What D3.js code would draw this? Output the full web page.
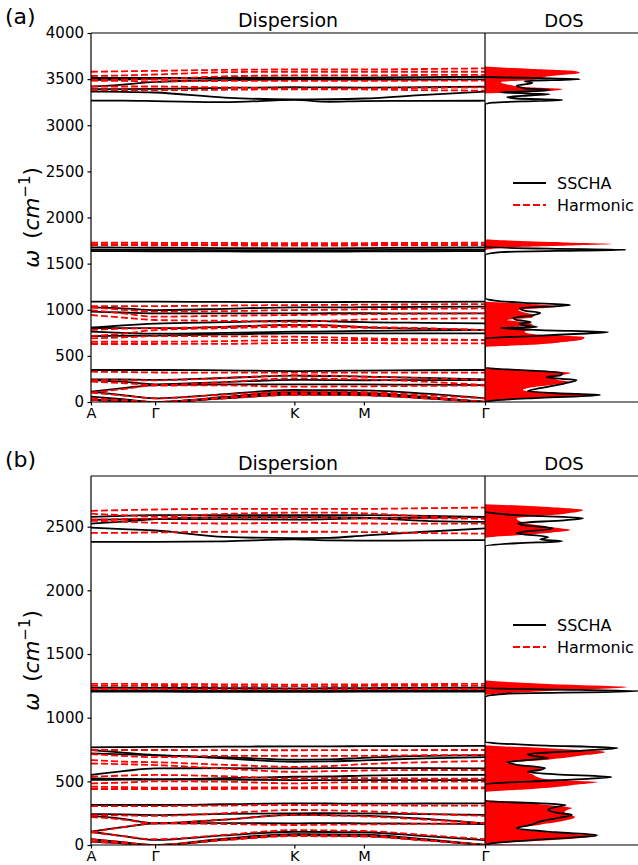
<!DOCTYPE html>
<html>
<head>
<meta charset="utf-8">
<script src="https://cdn.jsdelivr.net/npm/d3@7"></script>
<style>
body{margin:0;background:#fff}
text{font-family:"DejaVu Sans",sans-serif;fill:#000}
</style>
</head>
<body>
<svg id="fig" width="638" height="865"></svg>
<script>
// high symmetry path
var kLabels=["A","Γ","K","M","Γ"];
var kNodes=[0,0.307,0.974,1.307,1.887];
// sample points along path: A, mid, Γ, mid, K, mid, M, mid, Γ
var kPath=[0,0.153,0.307,0.64,0.974,1.14,1.307,1.6,1.887];

////////////////// panel (a) bands, cm-1
var sschaA=[
 [22,12,0,40,80,78,75,40,0],
 [22,12,0,45,94,90,85,45,0],
 [58,30,0,55,108,105,100,55,0],
 [112,75,40,85,130,128,125,90,40],
 [112,150,184,190,190,192,190,188,184],
 [238,220,192,215,240,238,236,238,238],
 [246,244,240,260,285,282,275,262,246],
 [347,347,347,343,335,338,340,344,347],
 [715,718,720,732,744,744,744,744,744],
 [762,750,742,750,762,765,770,776,780],
 [805,800,800,815,835,830,810,795,780],
 [805,830,849,865,881,875,865,858,853],
 [979,970,961,961,961,962,962,961,961],
 [1026,1015,997,1010,1026,1025,1028,1031,1033],
 [1087,1087,1087,1085,1082,1083,1085,1086,1087],
 [1635,1635,1634,1632,1630,1631,1632,1634,1635],
 [1650,1650,1649,1647,1645,1646,1647,1649,1650],
 [1675,1674,1672,1668,1665,1666,1668,1672,1675],
 [3266,3266,3262,3250,3275,3255,3262,3264,3266],
 [3364,3362,3355,3300,3280,3282,3290,3330,3364],
 [3390,3392,3395,3405,3412,3410,3408,3412,3418],
 [3418,3440,3470,3490,3497,3496,3494,3495,3497],
 [3490,3495,3505,3510,3512,3512,3512,3518,3526],
 [3512,3512,3512,3514,3516,3516,3516,3520,3526]
];
var harmA=[
 [22,10,0,40,76,75,72,40,0],
 [40,20,0,50,95,92,90,50,0],
 [101,70,40,80,112,110,108,75,40],
 [101,140,178,180,166,168,170,175,178],
 [220,205,184,215,257,252,245,220,184],
 [238,236,235,260,290,285,275,258,238],
 [329,325,320,318,318,318,318,318,318],
 [629,629,629,630,640,640,638,636,636],
 [653,653,653,660,672,672,672,672,672],
 [690,700,715,712,708,700,690,680,672],
 [715,740,780,800,816,812,805,795,780],
 [780,795,800,815,835,830,815,800,780],
 [943,915,889,880,870,880,895,903,907],
 [997,960,925,935,943,948,952,957,961],
 [1026,1000,979,985,997,1000,1005,1010,1015],
 [1040,1040,1040,1045,1051,1052,1055,1058,1062],
 [1700,1700,1699,1697,1695,1696,1697,1699,1700],
 [1712,1712,1711,1709,1707,1708,1709,1711,1712],
 [1727,1727,1726,1724,1722,1722,1723,1725,1727],
 [3382,3382,3380,3385,3390,3390,3388,3380,3375],
 [3420,3420,3420,3410,3400,3400,3400,3405,3411],
 [3483,3480,3475,3480,3480,3480,3480,3483,3483],
 [3490,3495,3500,3530,3540,3540,3540,3545,3545],
 [3534,3540,3550,3575,3580,3580,3580,3580,3580],
 [3580,3585,3590,3600,3605,3605,3605,3610,3617]
];
// DOS (a): [frequency, dos]
var dosSschaA=[[0,0],[20,0.08],[45,0.35],[76,0.73],[95,0.45],[119,0.27],[150,0.35],[200,0.5],[238,0.58],[255,0.45],[271,0.39],[290,0.48],[314,0.49],[340,0.3],[360,0.08],[372,0],
 [690,0],[715,0.3],[740,0.6],[759,0.78],[780,0.35],[802,0.1],[813,0.33],[830,0.25],[846,0.22],[868,0.29],[890,0.2],[911,0.18],[940,0.3],[965,0.35],[990,0.25],[1019,0.22],[1040,0.45],[1051,0.54],[1075,0.25],[1100,0.06],[1127,0],
 [1593,0],[1625,0.1],[1642,0.6],[1650,0.89],[1662,0.4],[1680,0],
 [3225,0],[3245,0.05],[3265,0.35],[3274,0.49],[3290,0.2],[3306,0.14],[3325,0.3],[3338,0.41],[3355,0.1],[3370,0.3],[3382,0.41],[3400,0.25],[3430,0.2],[3458,0.3],[3480,0.25],[3500,0.6],[3512,0.3],[3523,0]];
var dosHarmA=[[0,0],[15,0.05],[40,0.3],[62,0.6],[76,0.73],[92,0.55],[110,0.33],[130,0.24],[160,0.3],[190,0.45],[217,0.54],[245,0.45],[271,0.43],[295,0.5],[314,0.54],[335,0.4],[355,0.15],[372,0],
 [596,0],[620,0.3],[650,0.5],[680,0.62],[705,0.63],[730,0.35],[760,0.25],[790,0.3],[813,0.18],[835,0.3],[856,0.28],[875,0.2],[889,0.14],[915,0.3],[943,0.31],[970,0.25],[997,0.21],[1015,0.35],[1033,0.46],[1055,0.35],[1075,0.15],[1090,0],
 [1645,0],[1680,0.2],[1700,0.6],[1713,0.8],[1730,0.5],[1750,0.15],[1767,0],
 [3345,0],[3360,0.3],[3393,0.49],[3415,0.25],[3440,0.15],[3470,0.1],[3490,0.3],[3530,0.4],[3570,0.6],[3590,0.56],[3610,0.3],[3636,0]];

////////////////// panel (b)
var sschaB=[
 [26,12,0,40,75,73,70,38,0],
 [45,22,0,50,86,84,82,45,0],
 [104,70,40,75,104,102,100,70,39],
 [104,140,170,172,170,172,170,168,165],
 [228,205,170,200,236,234,230,205,170],
 [243,240,235,245,249,250,248,242,236],
 [314,314,314,320,327,326,325,326,327],
 [511,513,516,513,510,510,510,510,510],
 [524,520,516,525,536,538,545,550,550],
 [550,580,602,603,602,603,604,603,602],
 [720,712,706,680,654,656,665,680,690],
 [746,725,706,690,670,672,685,700,706],
 [767,769,770,772,775,775,776,777,778],
 [1205,1205,1204,1203,1202,1203,1204,1205,1205],
 [1215,1215,1214,1213,1212,1213,1214,1215,1215],
 [1235,1235,1234,1232,1230,1231,1232,1234,1235],
 [2381,2381,2381,2385,2400,2392,2390,2392,2394],
 [2492,2480,2470,2420,2410,2412,2430,2460,2486],
 [2524,2540,2560,2575,2575,2575,2570,2545,2537],
 [2555,2557,2560,2560,2555,2560,2565,2570,2577],
 [2577,2585,2590,2590,2590,2590,2590,2585,2577]
];
var harmB=[
 [26,12,0,38,70,68,66,35,0],
 [45,22,0,45,78,76,74,40,0],
 [100,70,45,80,117,114,110,78,45],
 [100,140,170,165,157,160,162,166,170],
 [220,200,170,200,236,232,225,200,170],
 [235,232,228,250,275,272,265,245,228],
 [306,306,306,310,314,313,312,310,310],
 [440,440,440,440,445,445,445,445,445],
 [458,455,450,452,452,455,455,452,452],
 [484,490,500,497,484,490,495,497,497],
 [536,545,550,540,522,525,525,522,522],
 [640,635,628,600,575,580,585,589,589],
 [667,655,650,630,614,620,635,650,660],
 [714,700,690,700,700,700,700,705,706],
 [746,746,746,745,744,745,745,746,746],
 [1225,1225,1224,1223,1222,1223,1224,1225,1225],
 [1250,1250,1249,1248,1247,1248,1249,1250,1250],
 [1265,1265,1264,1262,1260,1261,1262,1264,1265],
 [2452,2452,2455,2460,2460,2460,2458,2450,2445],
 [2546,2540,2530,2525,2530,2528,2525,2524,2524],
 [2555,2560,2565,2570,2570,2570,2565,2565,2563],
 [2602,2590,2580,2600,2610,2610,2605,2580,2563],
 [2624,2630,2635,2640,2640,2640,2640,2645,2650]
];
var dosSschaB=[[0,0],[15,0.05],[39,0.3],[78,0.71],[100,0.45],[133,0.2],[160,0.3],[181,0.34],[210,0.45],[236,0.55],[255,0.45],[275,0.4],[300,0.45],[314,0.51],[330,0.3],[345,0],
 [479,0],[500,0.3],[520,0.65],[534,0.8],[555,0.45],[573,0.27],[590,0.35],[604,0.38],[630,0.2],[651,0.14],[670,0.3],[683,0.4],[700,0.3],[712,0.27],[740,0.6],[761,0.84],[785,0.3],[808,0],
 [1162,0],[1190,0.15],[1203,0.8],[1209,0.97],[1218,0.6],[1232,0],
 [2347,0],[2370,0.2],[2386,0.49],[2400,0.35],[2418,0.4],[2449,0.2],[2488,0.43],[2510,0.25],[2527,0.21],[2550,0.5],[2567,0.62],[2590,0.2],[2614,0]];
var dosHarmB=[[0,1.0],[4,0.03],[20,0.15],[50,0.55],[71,0.71],[90,0.5],[115,0.25],[133,0.2],[160,0.35],[190,0.5],[220,0.57],[250,0.5],[275,0.52],[290,0.55],[315,0.4],[340,0.15],[355,0],
 [416,0],[440,0.3],[470,0.55],[494,0.71],[515,0.4],[534,0.33],[555,0.3],[573,0.27],[590,0.35],[604,0.37],[625,0.25],[644,0.14],[670,0.4],[700,0.6],[730,0.76],[760,0.4],[785,0],
 [1177,0],[1210,0.4],[1240,0.9],[1265,0.4],[1295,0],
 [2410,0],[2440,0.3],[2473,0.54],[2500,0.4],[2530,0.25],[2567,0.2],[2600,0.5],[2630,0.62],[2655,0.4],[2677,0]];

var yTicksA=[0,500,1000,1500,2000,2500,3000,3500,4000];
var yTicksB=[0,500,1000,1500,2000,2500];

var svg=d3.select("#fig");
var L=91,M=485,R=643;

function drawPanel(o){
	var g=svg.append("g");
	var x=d3.scaleLinear().domain([0,1.887]).range([L,M]);
	var y=d3.scaleLinear().domain([0,o.ymax]).range([o.bottom,o.top]);
	var xd=d3.scaleLinear().domain([0,1]).range([M,R]);

	//clips
	var defs=g.append("defs");
	defs.append("clipPath").attr("id","cd"+o.id).append("rect")
		.attr("x",L).attr("y",o.top).attr("width",M-L).attr("height",o.bottom-o.top);
	defs.append("clipPath").attr("id","cs"+o.id).append("rect")
		.attr("x",M).attr("y",o.top).attr("width",R-M).attr("height",o.bottom-o.top);

	var band=d3.line().x(function(d,i){return x(kPath[i]);}).y(function(d){return y(d);}).curve(d3.curveMonotoneX);
	var gd=g.append("g").attr("clip-path","url(#cd"+o.id+")");
	gd.selectAll(".sscha").data(o.sscha).enter().append("path")
		.attr("d",band).attr("fill","none").attr("stroke","#000").attr("stroke-width",1.8);
	gd.selectAll(".harm").data(o.harm).enter().append("path")
		.attr("d",band).attr("fill","none").attr("stroke","#ff0000").attr("stroke-width",1.8)
		.attr("stroke-dasharray","7,3");

	//dos
	var gs=g.append("g").attr("clip-path","url(#cs"+o.id+")");
	var area=d3.area().y(function(d){return y(d[0]);}).x0(xd(0)).x1(function(d){return xd(d[1]);}).curve(d3.curveMonotoneY);
	var dline=d3.line().y(function(d){return y(d[0]);}).x(function(d){return xd(d[1]);}).curve(d3.curveMonotoneY);
	gs.append("path").attr("d",area(o.dosHarm.slice().reverse())).attr("fill","#ff0000").attr("stroke","none");
	gs.append("path").attr("d",dline(o.dosSscha.slice().reverse())).attr("fill","none").attr("stroke","#000").attr("stroke-width",1.8);

	//spines
	var sp=g.append("g").attr("stroke","#000").attr("stroke-width",1.2).attr("fill","none");
	sp.append("line").attr("x1",L).attr("x2",R).attr("y1",o.top).attr("y2",o.top);
	sp.append("line").attr("x1",L).attr("x2",R).attr("y1",o.bottom).attr("y2",o.bottom);
	sp.append("line").attr("x1",L).attr("x2",L).attr("y1",o.top).attr("y2",o.bottom);
	sp.append("line").attr("x1",M).attr("x2",M).attr("y1",o.top).attr("y2",o.bottom);

	//axes
	var ay=g.append("g").attr("transform","translate("+L+",0)")
		.call(d3.axisLeft(y).tickValues(o.yTicks).tickSize(3.5).tickPadding(3.5).tickFormat(d3.format("d")));
	var ax=g.append("g").attr("transform","translate(0,"+o.bottom+")")
		.call(d3.axisBottom(x).tickValues(kNodes).tickSize(3.5).tickPadding(2).tickFormat(function(d,i){return kLabels[i];}));
	[ay,ax].forEach(function(a){
		a.select(".domain").remove();
		a.selectAll("line").attr("stroke","#000").attr("stroke-width",1.2);
		a.selectAll("text").attr("font-family","DejaVu Sans").attr("font-size",15).attr("fill","#000");
	});
	ax.selectAll("text").attr("font-size",14.5);

	//titles
	g.append("text").attr("x",(L+M)/2).attr("y",o.top-6).attr("text-anchor","middle").attr("font-size",19).text("Dispersion");
	g.append("text").attr("x",(M+R)/2).attr("y",o.top-6).attr("text-anchor","middle").attr("font-size",18).text("DOS");
	g.append("text").attr("x",5).attr("y",o.top-9).attr("font-size",22).text(o.tag);

	//y label
	var yl=g.append("text").attr("transform","translate(39,"+((o.top+o.bottom)/2)+") rotate(-90)")
		.attr("text-anchor","middle").attr("font-size",21.5);
	yl.append("tspan").attr("font-style","italic").text("ω");
	yl.append("tspan").attr("dx",11).text("(");
	yl.append("tspan").attr("font-style","italic").text("cm");
	yl.append("tspan").attr("font-size",15).attr("dy",-9).text("−1");
	yl.append("tspan").attr("dy",9).text(")");

	//legend
	var lg=g.append("g").attr("transform","translate(513,"+o.legY+")");
	lg.append("line").attr("x1",0).attr("x2",33).attr("y1",0).attr("y2",0).attr("stroke","#000").attr("stroke-width",1.8);
	lg.append("line").attr("x1",0).attr("x2",33).attr("y1",22).attr("y2",22).attr("stroke","#ff0000").attr("stroke-width",1.8).attr("stroke-dasharray","7,3");
	lg.append("text").attr("x",44).attr("y",5.5).attr("font-size",16).text("SSCHA");
	lg.append("text").attr("x",44).attr("y",27.5).attr("font-size",16).text("Harmonic");
}

drawPanel({id:"a",tag:"(a)",top:33,bottom:402,ymax:4000,yTicks:yTicksA,sscha:sschaA,harm:harmA,dosSscha:dosSschaA,dosHarm:dosHarmA,legY:183});
drawPanel({id:"b",tag:"(b)",top:476,bottom:845,ymax:2898,yTicks:yTicksB,sscha:sschaB,harm:harmB,dosSscha:dosSschaB,dosHarm:dosHarmB,legY:625});
</script>
</body>
</html>
